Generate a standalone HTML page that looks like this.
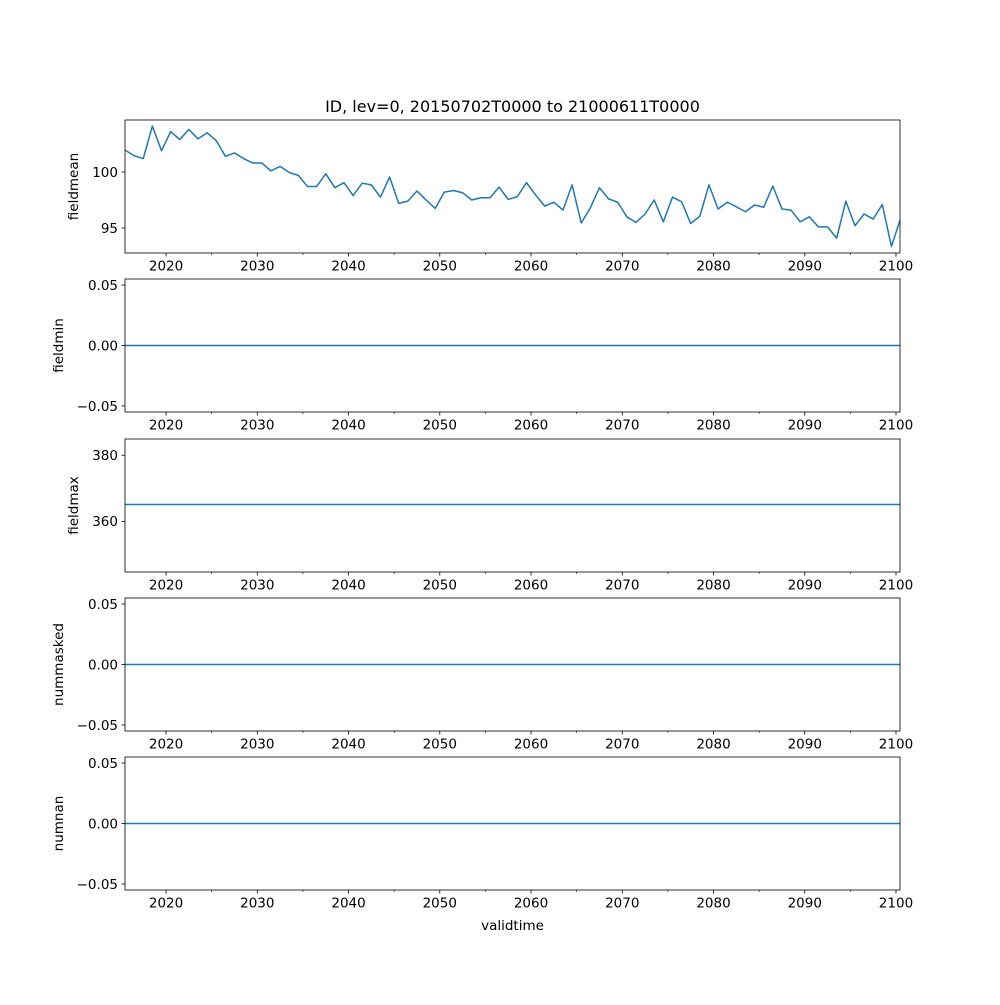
<!DOCTYPE html>
<html><head><meta charset="utf-8"><style>
body{margin:0;background:#fff}
svg text{font-family:"DejaVu Sans","Liberation Sans",sans-serif;fill:#000}
</style></head><body>
<svg id="chart" width="1000" height="1000" viewBox="0 0 1000 1000" xmlns="http://www.w3.org/2000/svg">
<rect width="1000" height="1000" fill="#fff"/>
<text x="512.5" y="112" text-anchor="middle" font-size="16">ID, lev=0, 20150702T0000 to 21000611T0000</text>
<text x="512.5" y="930" text-anchor="middle" font-size="13.5">validtime</text>
</svg>
<script>
const meanValues=[101.96,101.45,101.2,104.1,101.9,103.6,102.9,103.8,102.95,103.5,102.8,101.4,101.7,101.2,100.8,100.8,100.1,100.5,99.95,99.7,98.7,98.7,99.85,98.6,99.05,97.9,99.0,98.85,97.75,99.55,97.2,97.4,98.3,97.5,96.75,98.2,98.35,98.15,97.5,97.7,97.7,98.65,97.55,97.8,99.05,97.95,96.95,97.3,96.6,98.85,95.45,96.8,98.6,97.6,97.3,96.0,95.5,96.25,97.5,95.55,97.75,97.35,95.4,96.05,98.85,96.7,97.3,96.9,96.45,97.05,96.85,98.75,96.7,96.6,95.55,96.0,95.1,95.1,94.1,97.4,95.2,96.25,95.8,97.1,93.35,95.7];
const minValue=[0];
const maxValue=[365.1];
const maskedValue=[0];
const nanValue=[0];
const xTicks=[2020,2030,2040,2050,2060,2070,2080,2090,2100];
const xMinor=[2025,2035,2045,2055,2065,2075,2085,2095];
const panelNames=["fieldmean","fieldmin","fieldmax","nummasked","numnan"];
const yDomains=[[92.77,104.64],[-0.055,0.055],[344.7,384.9],[-0.055,0.055],[-0.055,0.055]];
const yTickVals=[[95,100],[-0.05,0,0.05],[360,380],[-0.05,0,0.05],[-0.05,0,0.05]];
const yTickLabels=[["95","100"],["−0.05","0.00","0.05"],["360","380"],["−0.05","0.00","0.05"],["−0.05","0.00","0.05"]];

const svg=document.getElementById('chart');
const NS='http://www.w3.org/2000/svg';
const L=125,R=900;
const tops=[120,279,439,598,757],H=133;
const x0=2015.5,x1=2100.44;
function sx(v){return L+(v-x0)/(x1-x0)*(R-L);}
function mk(t,a){const e=document.createElementNS(NS,t);for(const k in a)e.setAttribute(k,a[k]);svg.appendChild(e);return e;}
const yearsOf=i=>i<meanValues.length-1?x0+i:x1;
const series=[
 meanValues.map((v,i)=>[yearsOf(i),v]),
 [[x0,minValue[0]],[x1,minValue[0]]],
 [[x0,maxValue[0]],[x1,maxValue[0]]],
 [[x0,maskedValue[0]],[x1,maskedValue[0]]],
 [[x0,nanValue[0]],[x1,nanValue[0]]]
];
for(let p=0;p<5;p++){
 const T=tops[p],B=T+H,[d0,d1]=yDomains[p];
 const sy=v=>B-(v-d0)/(d1-d0)*H;
 const pts=series[p].map(([a,b])=>sx(a).toFixed(2)+','+sy(b).toFixed(2)).join(' ');
 const line=mk('polyline',{points:pts,fill:'none',stroke:'#1f77b4','stroke-width':1.5,'stroke-linejoin':'round'});
 
 
 const fr=mk('rect',{x:L,y:T,width:R-L,height:H,fill:'none',stroke:'#000','stroke-width':0.8});
 
 
 yTickVals[p].forEach((v,i)=>{
  const y=sy(v);
  mk('line',{x1:L-3.5,x2:L,y1:y,y2:y,stroke:'#000','stroke-width':0.8});
  const t=mk('text',{x:L-7,y:y+4.8,'text-anchor':'end','font-size':13.5});
  t.textContent=yTickLabels[p][i];
  
  
 });
 xTicks.forEach(v=>{
  const x=sx(v);
  mk('line',{x1:x,x2:x,y1:B,y2:B+3.5,stroke:'#000','stroke-width':0.8});
  const t=mk('text',{x:x,y:B+17.5,'text-anchor':'middle','font-size':13.5});
  t.textContent=v;
  
  
 });
 xMinor.forEach(v=>{const x=sx(v);mk('line',{x1:x,x2:x,y1:B,y2:B+2,stroke:'#000','stroke-width':0.6});});
 const lx=p===0||p===2?78:63;
 const yl=mk('text',{x:lx,y:T+H/2,'text-anchor':'middle','font-size':13.5,transform:'rotate(-90 '+lx+' '+(T+H/2)+')'});
 yl.textContent=panelNames[p];
 
 
}
</script>
</body></html>
